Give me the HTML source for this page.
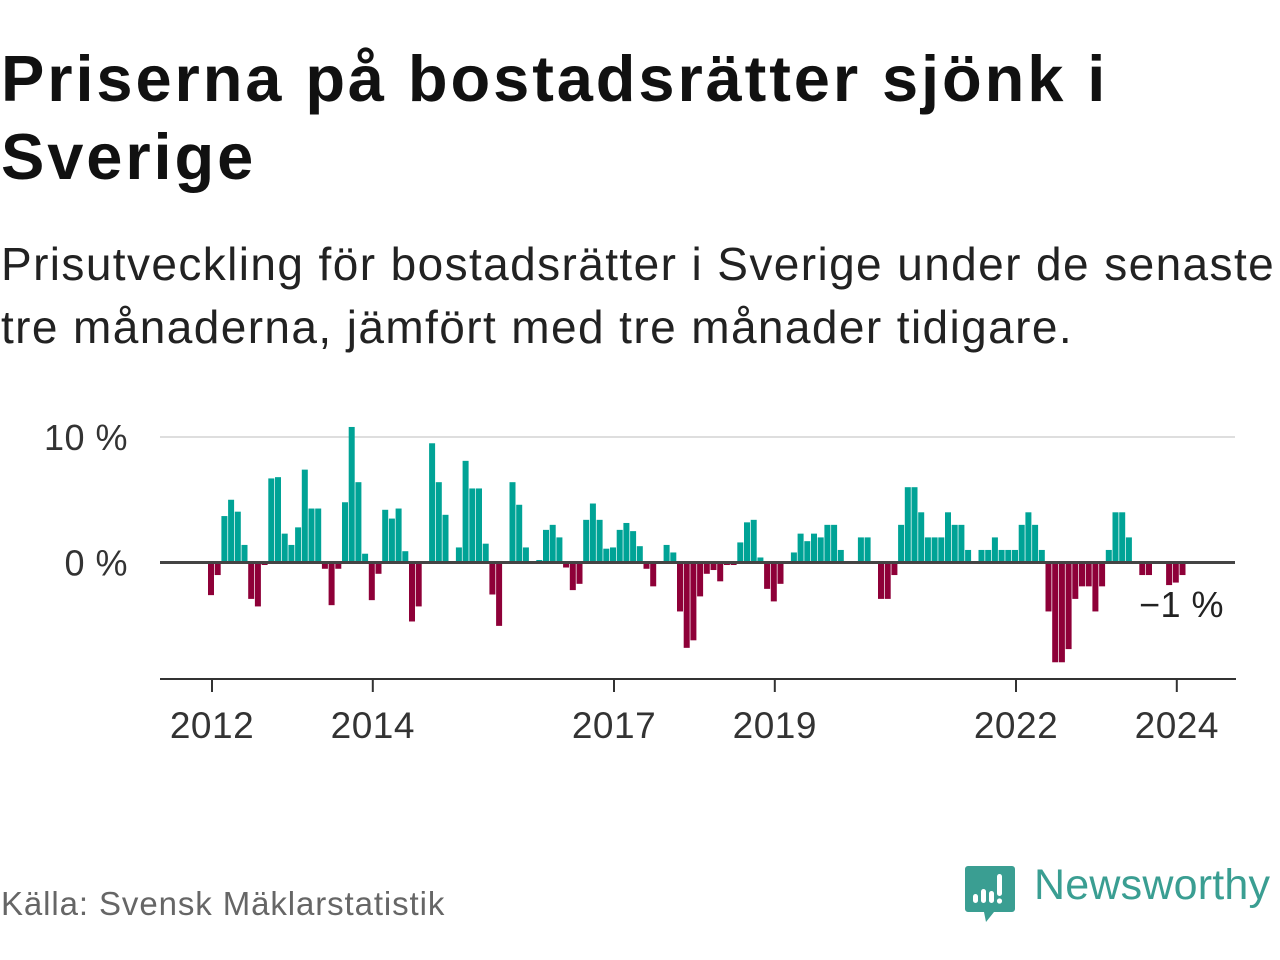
<!DOCTYPE html>
<html><head><meta charset="utf-8"><style>
body{margin:0;width:1280px;height:960px;background:#fff;overflow:hidden;font-family:"Liberation Sans",sans-serif;position:relative}
#title{position:absolute;left:1px;top:40px;font-size:65px;font-weight:bold;line-height:78px;color:#111;margin:0;letter-spacing:2.9px;white-space:nowrap}
#sub{position:absolute;left:1px;top:233px;font-size:46px;line-height:63px;color:#222;margin:0;letter-spacing:1.4px;white-space:nowrap}
#src{position:absolute;left:1px;top:885px;font-size:33px;color:#666;letter-spacing:0.9px}
#logo{position:absolute;left:1034px;top:861px;font-size:43px;color:#3a9e92;letter-spacing:0.2px}
</style></head><body>
<h1 id="title">Priserna på bostadsrätter sjönk i<br>Sverige</h1>
<p id="sub">Prisutveckling för bostadsrätter i Sverige under de senaste<br>tre månaderna, jämfört med tre månader tidigare.</p>
<svg id="chart" width="1280" height="960" style="position:absolute;left:0;top:0"></svg>
<div id="src">Källa: Svensk Mäklarstatistik</div>
<svg style="position:absolute;left:964px;top:864px" width="52" height="60">
<path d="M4 2h44a3 3 0 0 1 3 3v40a3 3 0 0 1-3 3H30l-8 10l-2-10H4a3 3 0 0 1-3-3V5a3 3 0 0 1 3-3z" fill="#3a9e92"/>
<rect x="9" y="30" width="5" height="9" rx="2.5" fill="#fff"/><rect x="17" y="25" width="5" height="14" rx="2.5" fill="#fff"/><rect x="25" y="27" width="5" height="12" rx="2.5" fill="#fff"/><rect x="33" y="10" width="5" height="22" rx="2.5" fill="#fff"/><circle cx="35.5" cy="37" r="2.6" fill="#fff"/>
</svg>
<div id="logo">Newsworthy</div>
<script>
const values=[-2.6,-1.0,3.7,5.0,4.05,1.4,-2.9,-3.5,-0.2,6.7,6.8,2.3,1.4,2.8,7.4,4.3,4.3,-0.5,-3.4,-0.5,4.8,10.8,6.4,0.7,-3.0,-0.9,4.2,3.5,4.3,0.9,-4.7,-3.5,0,9.5,6.4,3.8,0,1.2,8.1,5.9,5.9,1.5,-2.55,-5.05,0,6.4,4.6,1.2,
0,0.2,2.6,3.0,2.0,-0.4,-2.2,-1.7,3.4,4.7,3.4,1.1,1.2,2.6,3.15,2.5,1.3,-0.5,-1.9,0,1.4,0.8,-3.9,-6.8,-6.2,-2.7,-0.9,-0.6,-1.5,-0.2,-0.2,1.6,3.2,3.4,0.4,-2.1,-3.1,-1.7,0,0.8,2.3,1.7,2.3,2.0,3.0,3.0,1.0,0,0,2.0,2.0,
0,-2.9,-2.9,-1.0,3.0,6.0,6.0,4.0,2.0,2.0,2.0,4.0,3.0,3.0,1.0,0,1.0,1.0,2.0,1.0,1.0,1.0,3.0,4.0,3.0,1.0,-3.9,-7.95,-7.95,-6.9,-2.9,-1.9,-1.9,-3.9,-1.9,1.0,4.0,4.0,2.0,0,-1.0,-1.0,0,0,-1.8,-1.6,-1.0];
const yTicks=[0,10];
const yTickLabels=["0 %","10 %"];
const xTickMonths=[0,24,60,84,120,144];
const xTickLabels=["2012","2014","2017","2019","2022","2024"];
const lastLabel="\u22121 %";
const NS="http://www.w3.org/2000/svg";
const svg=document.getElementById('chart');
const x=i=>211+i*6.7;
const y=v=>562.5-v*12.55;
function mk(t,a){const e=document.createElementNS(NS,t);for(const k in a)e.setAttribute(k,a[k]);svg.appendChild(e);return e;}
yTicks.forEach((t,i)=>{
  if(t!==0){const g=mk('line',{x1:160,x2:1235,y1:y(t),y2:y(t),stroke:'#dedede','stroke-width':2});
  
  }
  const l=mk('text',{x:128,y:y(t)+13,'text-anchor':'end','font-size':36,'letter-spacing':0.5,fill:'#333','font-family':'Liberation Sans, sans-serif'});
  l.textContent=yTickLabels[i];
  
  
});
values.forEach((v,i)=>{
  if(v===0)return;
  const r=mk('rect',{x:x(i)-3,width:6,y:Math.min(y(v),y(0)),height:Math.abs(y(v)-y(0)),fill:v>0?'#00a396':'#8e0038'});
  
  
});
const z=mk('line',{x1:160,x2:1235,y1:y(0),y2:y(0),stroke:'#444','stroke-width':3});


const ax=mk('line',{x1:160,x2:1236,y1:679,y2:679,stroke:'#333','stroke-width':2});


xTickMonths.forEach((m,i)=>{
  const t=mk('line',{x1:x(m)+1,x2:x(m)+1,y1:679,y2:692,stroke:'#333','stroke-width':2});
  
  
  const l=mk('text',{x:x(m)+1,y:738,'text-anchor':'middle','font-size':37,'letter-spacing':0.5,fill:'#333','font-family':'Liberation Sans, sans-serif'});
  l.textContent=xTickLabels[i];
  
  
});
const ll=mk('text',{x:1224,y:617,'text-anchor':'end','font-size':36,'letter-spacing':0.5,fill:'#222','font-family':'Liberation Sans, sans-serif'});
ll.textContent=lastLabel;


</script>
</body></html>
